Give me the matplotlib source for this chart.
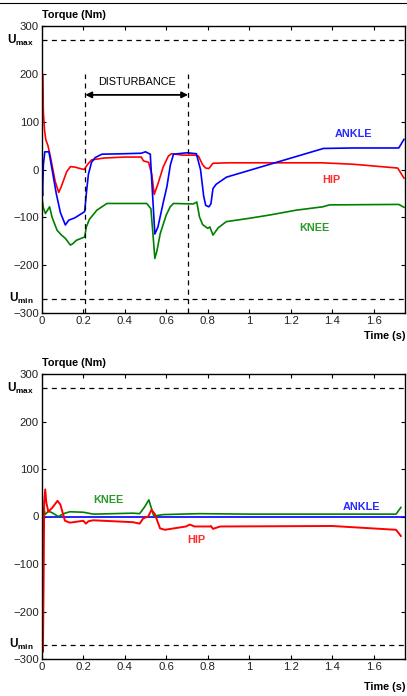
import matplotlib
matplotlib.use("Agg")
import matplotlib.pyplot as plt
import matplotlib.transforms as mtransforms
from matplotlib.lines import Line2D

plt.rcParams["font.family"] = ["Liberation Sans", "DejaVu Sans"]
plt.rcParams["mathtext.fontset"] = "custom"
plt.rcParams["mathtext.rm"] = "Liberation Sans"
plt.rcParams["mathtext.bf"] = "Liberation Sans:bold"

# torque traces, case 1 (with disturbance)
t_hip_1 = [0.0, 0.004, 0.008, 0.014, 0.02, 0.03, 0.045, 0.065, 0.082, 0.095, 0.12, 0.138,
           0.16, 0.185, 0.205, 0.22, 0.24, 0.3, 0.4, 0.48, 0.49, 0.515, 0.53, 0.542, 0.56,
           0.585, 0.61, 0.625, 0.68, 0.74, 0.755, 0.775, 0.79, 0.805, 0.825, 0.9, 1.0,
           1.2, 1.35, 1.5, 1.715, 1.745]
hip_1 = [30, 200, 120, 80, 62, 50, 20, -25, -48, -35, -5, 6,
         5, 2, 0, 10, 20, 24, 26, 26, 18, 15, -10, -52, -30,
         5, 28, 33, 30, 30, 28, 10, 3, 2, 13, 14, 14,
         14, 14, 11, 3, -18]

t_ankle_1 = [0.0, 0.004, 0.008, 0.015, 0.035, 0.05, 0.07, 0.09, 0.114, 0.13, 0.16, 0.207,
             0.215, 0.225, 0.24, 0.258, 0.29, 0.4, 0.48, 0.5, 0.523, 0.535, 0.545, 0.56,
             0.585, 0.603, 0.62, 0.635, 0.7, 0.745, 0.765, 0.78, 0.79, 0.805, 0.815, 0.825,
             0.84, 0.89, 1.357, 1.5, 1.72, 1.745]
ankle_1 = [-20, -55, 10, 37, 37, 0, -50, -90, -116, -106, -101, -88,
           -50, -10, 15, 25, 32, 33, 34, 37, 32, -60, -135, -120,
           -70, -36, 10, 32, 35, 33, 0, -55, -75, -78, -72, -40,
           -31, -16, 44, 45, 45, 63]

t_knee_1 = [0.0, 0.008, 0.018, 0.028, 0.038, 0.05, 0.074, 0.095, 0.114, 0.138, 0.15, 0.167,
            0.207, 0.215, 0.23, 0.266, 0.314, 0.4, 0.506, 0.526, 0.535, 0.545, 0.555, 0.571,
            0.6, 0.619, 0.635, 0.73, 0.747, 0.76, 0.775, 0.79, 0.8, 0.81, 0.825, 0.85,
            0.889, 1.0, 1.1, 1.226, 1.354, 1.386, 1.72, 1.745]
knee_1 = [-55, -80, -92, -85, -78, -100, -127, -137, -144, -158, -155, -148,
          -141, -120, -104, -85, -71, -71, -71, -82, -130, -186, -170, -134,
          -95, -78, -71, -72, -68, -99, -115, -120, -123, -120, -137, -122,
          -109, -102, -95, -85, -78, -74, -73, -79]

# torque traces, case 2
t_hip_2 = [0.0, 0.003, 0.006, 0.009, 0.012, 0.017, 0.022, 0.032, 0.05, 0.076, 0.09, 0.112,
           0.136, 0.2, 0.213, 0.225, 0.249, 0.44, 0.472, 0.489, 0.513, 0.529, 0.545, 0.57,
           0.593, 0.695, 0.713, 0.737, 0.81, 0.815, 0.825, 0.86, 1.4, 1.707, 1.73]
hip_2 = [0, -150, -285, -150, 30, 57, 30, 10, 18, 33, 25, -9,
         -13, -9, -15, -10, -8, -12, -15, -4, 0, 14, 5, -25,
         -28, -21, -17, -21, -21, -20, -26, -21, -20, -28, -41]

t_ankle_2 = [0.0, 1.745]
ankle_2 = [0, 0]

t_knee_2 = [0.0, 0.005, 0.01, 0.016, 0.032, 0.05, 0.08, 0.112, 0.136, 0.2, 0.249, 0.44,
            0.472, 0.497, 0.516, 0.54, 0.585, 0.76, 1.0, 1.4, 1.707, 1.73]
knee_2 = [14, -49, 20, 4, 11, 8, 0, 7, 10, 9, 5, 7,
          6, 21, 35, 1, 4, 6, 5, 5, 5, 19]

u_max = 270
u_min = -270
disturbance = (0.21, 0.705)

C_ANKLE = "#0000ff"
C_HIP = "#ff0000"
C_KNEE = "#008000"

W, H = 407, 696
fig = plt.figure(figsize=(W / 100, H / 100), dpi=100)
fig.add_artist(Line2D([0, 1], [1 - 3 / H, 1 - 3 / H], color="k", lw=0.8,
                      transform=fig.transFigure))


def setup_axes(ax, time_y):
    ax.set_xlim(0, 1.75)
    ax.set_ylim(-300, 300)
    ax.set_xticks([0, 0.2, 0.4, 0.6, 0.8, 1, 1.2, 1.4, 1.6])
    ax.set_xticklabels(["0", "0.2", "0.4", "0.6", "0.8", "1", "1.2", "1.4", "1.6"])
    ax.set_yticks([-300, -200, -100, 0, 100, 200, 300])
    ax.tick_params(direction="in", top=True, right=True, length=3, width=0.8,
                   labelsize=8.2, pad=2, labelcolor="#222222")
    for s in ax.spines.values():
        s.set_linewidth(1.0)
    ax.axhline(u_max, color="k", ls=(0, (4, 3.5)), lw=0.9)
    ax.axhline(u_min, color="k", ls=(0, (4, 3.5)), lw=0.9)
    trans = mtransforms.blended_transform_factory(ax.transAxes, ax.transData)
    ax.text(-0.022, u_max, r"$\mathbf{U}_{\mathbf{max}}$", transform=trans,
            ha="right", va="center", fontsize=8.5)
    ax.text(-0.022, u_min, r"$\mathbf{U}_{\mathbf{min}}$", transform=trans,
            ha="right", va="center", fontsize=8.5)
    ax.text(0.0, 1.02, "Torque (Nm)", transform=ax.transAxes, ha="left", va="bottom",
            fontsize=7.8, fontweight="bold")
    ax.text(1.0, time_y, "Time (s)", transform=ax.transAxes, ha="right", va="center",
            fontsize=7.8, fontweight="bold")


# top panel
ax1 = fig.add_axes([41.7 / W, 1 - 313 / H, 363.3 / W, 287 / H])
setup_axes(ax1, -0.080)
ax1.plot(t_hip_1, hip_1, color=C_HIP, lw=1.2)
ax1.plot(t_ankle_1, ankle_1, color=C_ANKLE, lw=1.2)
ax1.plot(t_knee_1, knee_1, color=C_KNEE, lw=1.2)
for xd in disturbance:
    ax1.plot([xd, xd], [-300, 200], color="k", ls=(0, (4, 3.5)), lw=0.9)
ax1.annotate("", xy=(disturbance[0], 156), xytext=(disturbance[1], 156),
             arrowprops=dict(arrowstyle="<|-|>", color="k", lw=1.3,
                             mutation_scale=9, shrinkA=0, shrinkB=0))
ax1.text(sum(disturbance) / 2, 172, "DISTURBANCE", ha="center", va="bottom", fontsize=7.8)
ax1.text(1.50, 74, "ANKLE", color="#2a2aff", ha="center", va="center",
         fontsize=7.8, fontweight="bold")
ax1.text(1.396, -22, "HIP", color="#ff2a2a", ha="center", va="center",
         fontsize=7.8, fontweight="bold")
ax1.text(1.314, -123, "KNEE", color="#2a9a2a", ha="center", va="center",
         fontsize=7.8, fontweight="bold")

# bottom panel
ax2 = fig.add_axes([41.7 / W, 1 - 659 / H, 363.3 / W, 285 / H])
setup_axes(ax2, -0.098)
ax2.plot(t_ankle_2, ankle_2, color=C_ANKLE, lw=1.2)
ax2.plot(t_knee_2, knee_2, color=C_KNEE, lw=1.2)
ax2.plot(t_hip_2, hip_2, color=C_HIP, lw=1.4)
ax2.text(1.54, 21, "ANKLE", color="#2a2aff", ha="center", va="center",
         fontsize=7.8, fontweight="bold")
ax2.text(0.745, -49, "HIP", color="#ff2a2a", ha="center", va="center",
         fontsize=7.8, fontweight="bold")
ax2.text(0.32, 35, "KNEE", color="#2a9a2a", ha="center", va="center",
         fontsize=7.8, fontweight="bold")

fig.savefig("out.png", dpi=100)
